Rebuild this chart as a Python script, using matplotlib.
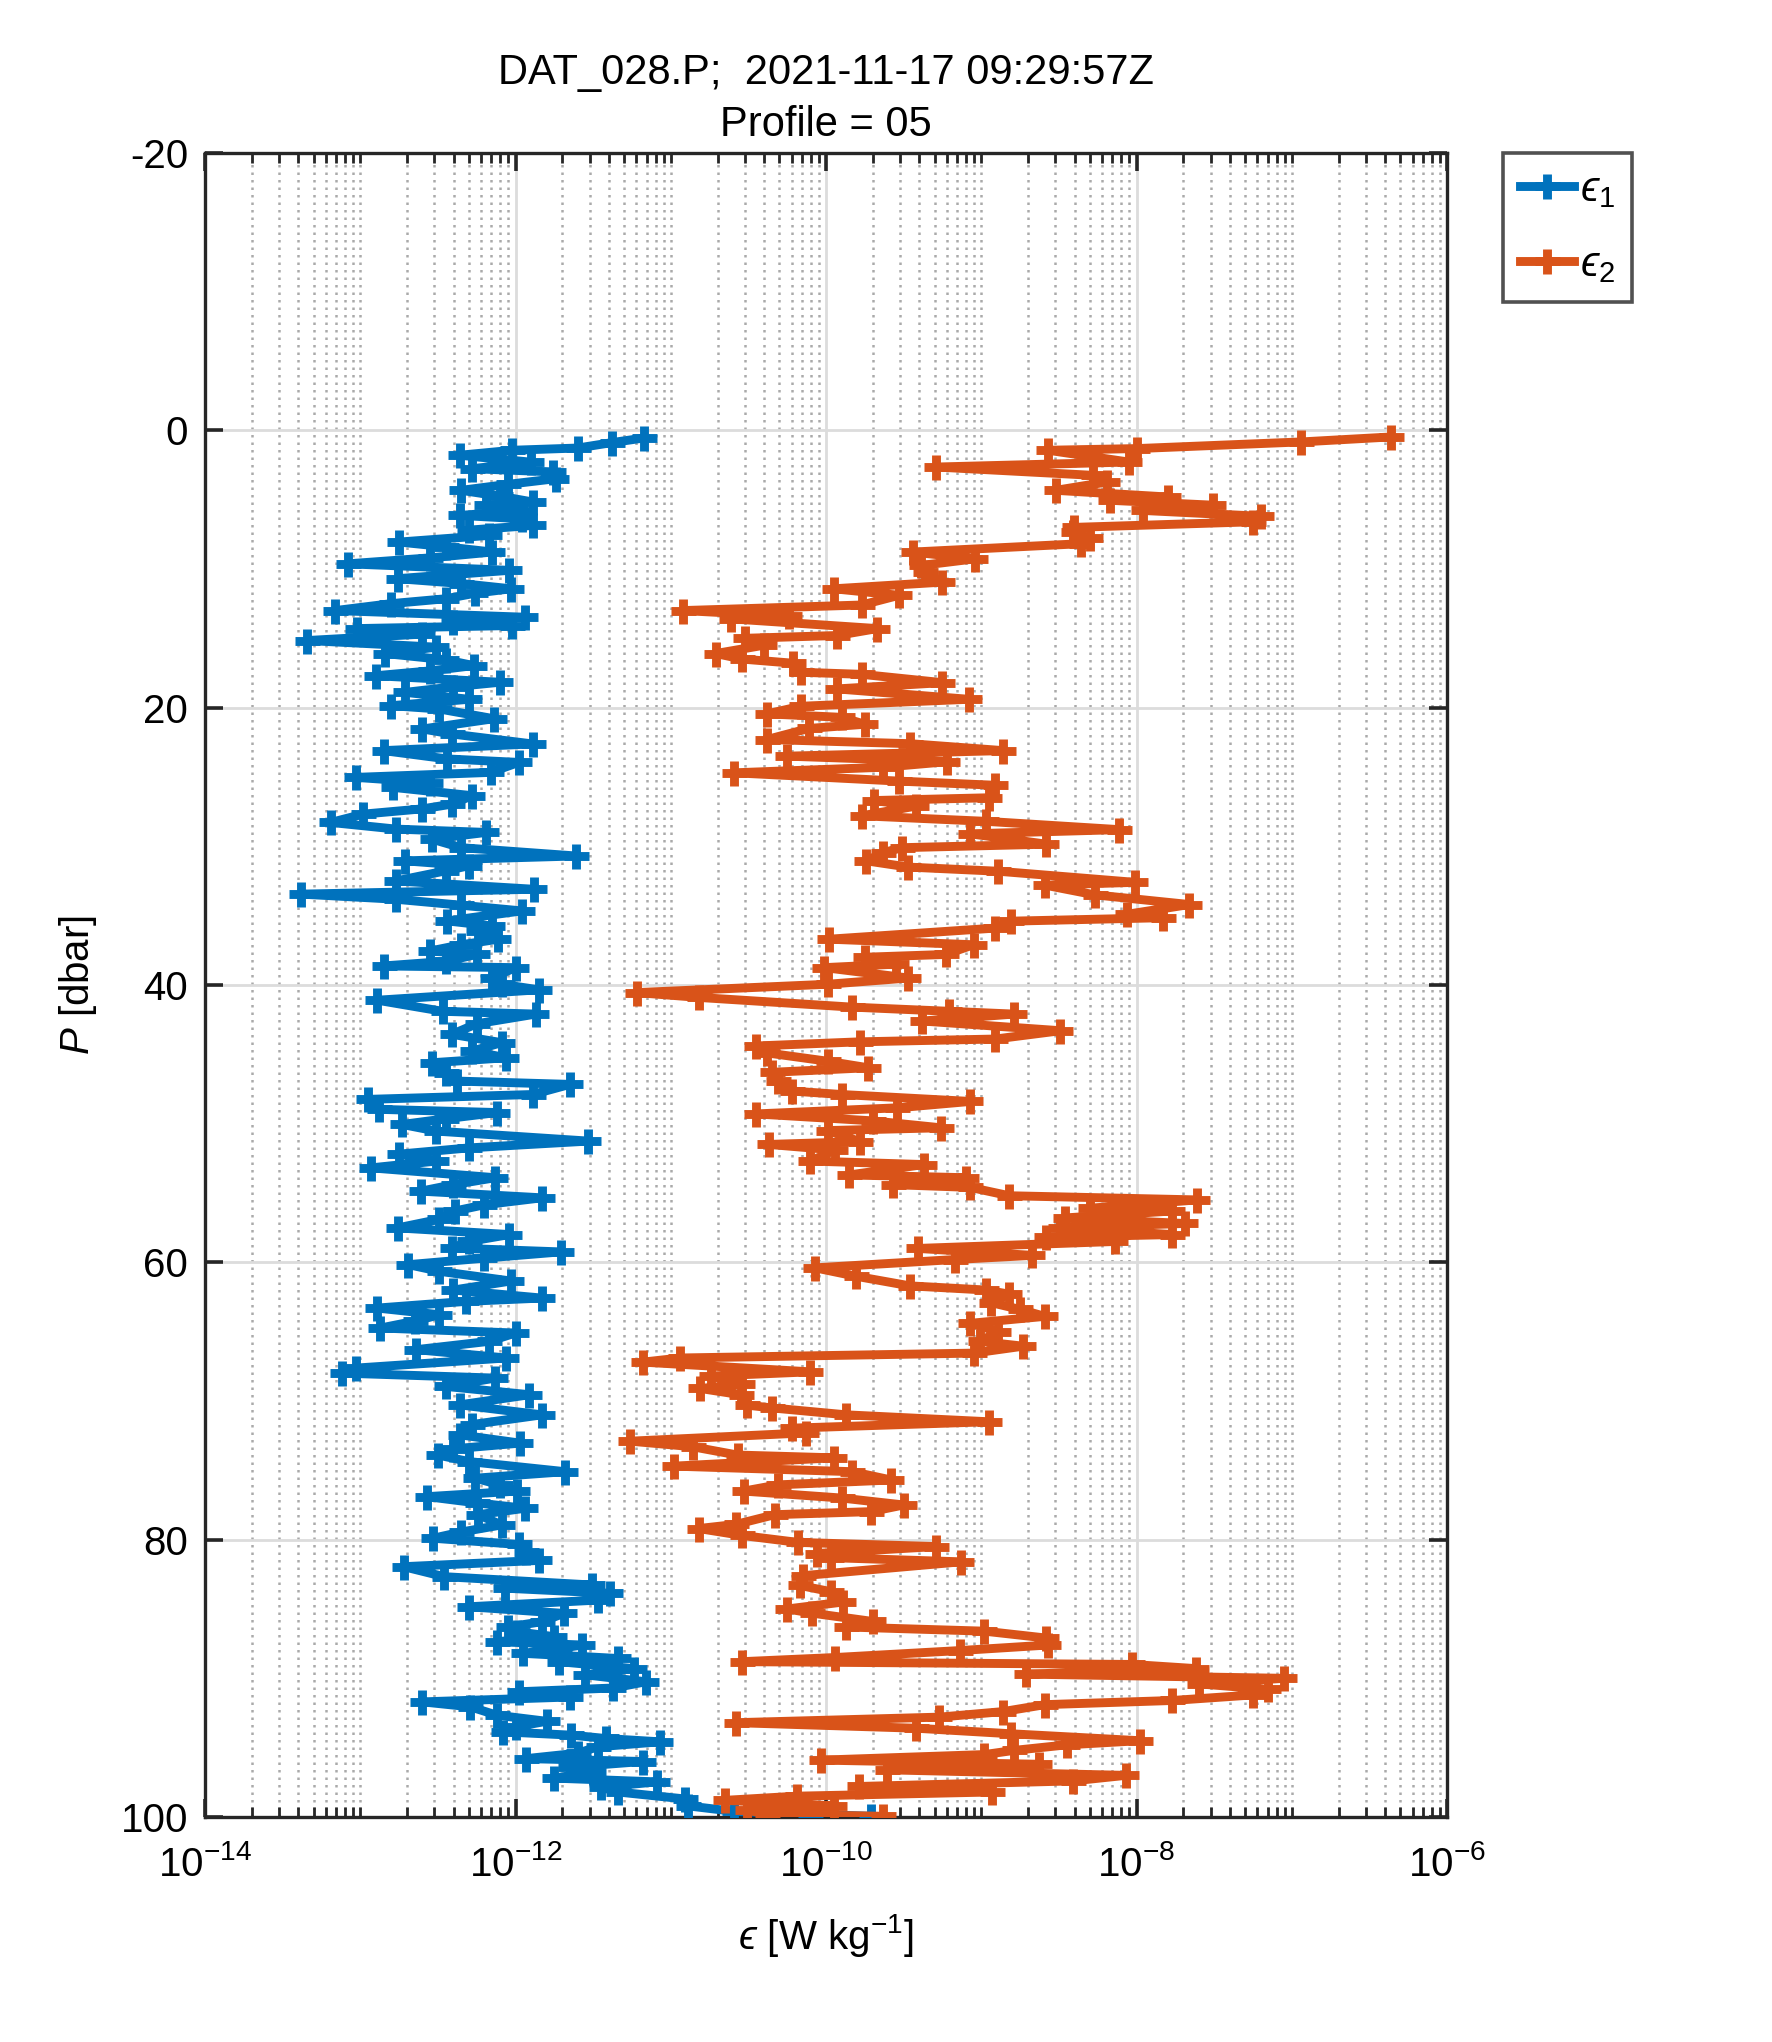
import matplotlib

matplotlib.use("Agg")

import matplotlib.pyplot as plt
import numpy as np
from matplotlib.ticker import FixedLocator, FuncFormatter, NullFormatter

# pressure [dbar] and log10(epsilon), shear probe 1
p1 = [
    0.55, 0.89, 1.28, 1.44, 1.80, 2.30, 2.77, 3.00, 3.49, 3.90, 4.33, 4.75, 5.17, 5.40,
    5.80, 6.14, 6.38, 6.86, 7.20, 7.58, 8.06, 8.40, 8.78, 9.20, 9.63, 10.10, 10.70, 11.05,
    11.43, 11.75, 12.15, 12.50, 13.00, 13.48, 13.80, 14.08, 14.30, 14.70, 15.16, 15.64,
    16.10, 16.55, 16.97, 17.35, 17.70, 18.17, 18.50, 18.90, 19.40, 19.86, 20.10,
    20.80, 21.54, 21.90, 22.62, 23.10, 23.70, 23.95, 24.67, 25.03, 25.40, 25.75, 26.35,
    26.96, 27.30, 27.68, 28.28, 28.76, 29.00, 29.48, 30.10, 30.70, 31.05, 31.40, 31.77,
    32.50, 33.10, 33.45, 33.82, 34.25, 34.66, 35.38, 35.75, 36.10, 36.70, 37.10, 37.55,
    37.80, 38.30, 38.63, 38.75, 39.47, 39.95, 40.35,
    41.10, 41.90, 42.10, 42.80, 43.56, 44.16, 44.77, 45.25, 45.61, 46.33, 46.93, 47.17,
    47.90, 48.25, 48.97, 49.20, 49.65, 50.06, 50.54, 51.26, 51.75, 52.20, 52.70, 53.19,
    53.90, 54.40, 54.87, 55.35, 55.85, 56.30, 56.90, 57.52, 58.00, 58.50, 58.97, 59.25,
    59.70, 60.17, 60.65,
    61.35, 62.00, 62.58, 62.82, 63.30, 63.78, 64.25, 64.74, 65.10, 65.70, 66.30, 66.90,
    67.63, 67.99, 68.35, 68.95, 69.55, 70.28, 71.00, 71.70, 72.44, 73.04, 73.45, 73.90,
    74.37, 75.10, 75.57, 76.05, 76.50, 76.90, 77.35, 77.74, 78.20, 78.94, 79.45, 79.90,
    80.35, 80.90, 81.50, 81.95, 82.67, 83.27, 83.50, 83.87, 84.36, 84.84, 85.32, 85.92,
    86.30, 86.64, 87.00, 87.36, 87.60, 87.85, 88.20, 88.57, 88.80, 89.30, 89.75, 90.25,
    90.70, 90.97, 91.35, 91.70, 92.06, 92.66, 93.10, 93.50, 93.86, 94.10, 94.34, 94.58,
    94.94, 95.40, 95.79, 96.00, 96.40, 96.75, 97.20, 97.47, 97.85, 98.20, 98.70, 99.20,
    99.60, 99.80, 99.95,
]
log_eps1 = [
    -11.17, -11.38, -11.60, -12.02, -12.36, -11.90, -12.28, -11.76, -11.74, -12.05, -12.35,
    -12.10, -11.89, -12.19, -11.95, -12.36, -11.96, -11.89, -12.30, -12.17, -12.75, -12.45,
    -12.15, -12.55, -13.08, -12.04, -12.76, -12.35, -12.03, -12.26, -12.45, -12.80, -13.16,
    -11.94, -12.40, -12.02, -13.02, -12.60, -13.34, -12.51, -12.84, -12.45, -12.27, -12.55,
    -12.90, -12.10, -12.40, -12.71, -12.30, -12.80, -12.49,
    -12.14, -12.60, -12.41, -11.89, -12.85, -12.44, -11.98, -12.16, -13.03, -12.55, -12.79,
    -12.28, -12.41, -12.60, -12.98, -13.19, -12.77, -12.19, -12.54, -12.35, -11.61, -12.71,
    -12.30, -12.45, -12.77, -11.88, -13.38, -12.77, -12.35, -11.96, -12.44, -12.15, -12.24,
    -12.11, -12.35, -12.55, -12.25, -12.45, -12.85, -12.00, -12.15, -12.09, -11.85,
    -12.89, -12.47, -11.87, -12.25, -12.41, -12.09, -12.28, -12.06, -12.54, -12.45, -12.38,
    -11.65, -11.89, -12.95, -12.88, -12.12, -12.45, -12.73, -12.51, -11.53, -12.30, -12.75,
    -12.51, -12.93, -12.13, -12.40, -12.61, -11.83, -12.20, -12.39, -12.49, -12.76, -12.04,
    -12.30, -12.41, -11.71, -12.20, -12.69, -12.49,
    -12.03, -12.40, -11.83, -12.32, -12.89, -12.49, -12.65, -12.87, -12.00, -12.17, -12.64,
    -12.06, -13.03, -13.12, -12.13, -12.45, -11.91, -12.36, -11.83, -12.28, -12.36, -11.97,
    -12.40, -12.50, -12.30, -11.68, -12.26, -12.10, -11.99, -12.57, -12.25, -11.94, -12.24,
    -12.09, -12.35, -12.53,
    -11.98, -11.93, -11.85, -12.72, -12.46, -11.51, -12.07, -11.39, -11.47, -12.30, -11.69,
    -11.83, -12.05, -11.99, -11.75, -12.12, -11.57, -11.72, -11.95, -11.34, -11.72, -11.24,
    -11.55, -11.16, -11.37, -11.98, -11.65, -12.60, -12.29, -12.12, -11.80, -12.00, -12.08,
    -11.64, -11.42, -11.07, -11.47, -11.60, -11.93, -11.18, -11.65, -11.50, -11.75, -11.09,
    -11.45, -11.34, -10.91, -10.89, -10.59, -10.10, -9.71,
]

# shear probe 2
p2 = [
    0.48, 0.84, 1.32, 1.44, 2.29, 2.65, 3.25, 3.73, 4.33, 4.81, 5.05, 5.40, 5.78, 6.20,
    6.60, 7.00, 7.34, 7.80, 8.18, 8.78, 9.27, 9.75, 10.23, 10.95, 11.43, 11.90, 12.60,
    13.00, 13.40, 13.60, 14.30, 14.80, 15.00, 15.50, 16.10, 16.50, 16.80, 17.45, 17.60,
    18.20, 18.65, 19.40, 19.90,
    20.45, 20.70, 21.20, 21.50, 22.30, 22.60, 23.10, 23.50, 23.90, 24.30, 24.70, 25.30,
    25.60, 26.50, 26.70, 27.10, 27.80, 28.20, 28.80, 29.10, 29.85, 30.10, 30.45, 31.05,
    31.50, 31.80, 32.60, 32.80, 33.50, 34.20, 34.90, 35.15, 35.40, 35.90, 36.70, 37.10,
    37.80, 38.00, 38.50, 38.75, 39.50, 39.95,
    40.55, 40.90, 41.60, 41.90, 42.10, 42.60, 43.30, 43.90, 44.10, 44.40, 44.90, 45.50,
    45.97, 46.30, 46.90, 47.65, 47.90, 48.40, 48.86, 49.30, 49.80, 50.30, 50.50, 51.30,
    51.50, 51.90, 52.70, 52.95, 53.70, 53.90, 54.40, 54.60, 55.20, 55.50, 56.10, 56.30,
    56.80, 57.20, 57.50, 58.00, 58.20, 58.50, 59.00, 59.50, 59.80,
    60.40, 61.00, 61.70, 62.00, 62.30, 62.90, 63.40, 63.90, 64.40, 65.00, 65.70, 66.05,
    66.55, 66.90, 67.20, 67.90, 68.20, 68.80, 69.10, 69.55, 70.30, 70.50, 71.00, 71.50,
    71.96, 72.30, 72.90, 73.30, 73.90, 74.10, 74.70, 75.10, 75.70, 76.05, 76.50, 77.00,
    77.50, 77.98, 78.20, 78.90, 79.20, 79.70,
    80.20, 80.50, 81.00, 81.30, 81.60, 82.60, 83.30, 83.75, 84.50, 85.00, 85.30, 85.90,
    86.30, 86.60, 87.10, 87.60, 88.00, 88.50, 88.80, 89.00, 89.30, 89.70, 90.00, 90.40,
    90.80, 91.20, 91.60, 91.90, 92.40, 92.80, 93.20, 93.60, 94.00, 94.50, 94.80, 95.20,
    95.50, 95.90, 96.20, 96.60, 97.00, 97.40, 97.80, 98.20, 98.50, 98.80, 99.20, 99.50,
    99.80, 99.95,
]
log_eps2 = [
    -6.36, -6.94, -8.00, -8.57, -8.05, -9.29, -8.28, -8.19, -8.52, -7.80, -8.17, -7.51,
    -7.96, -7.20, -7.25, -8.40, -8.41, -8.30, -8.36, -9.44, -9.04, -9.39, -9.36, -9.25,
    -9.95, -9.53, -9.77, -10.92, -10.24, -10.61, -9.67, -9.93, -10.52, -10.40, -10.71,
    -10.54, -10.21, -10.16, -9.77, -9.25, -9.93, -9.08, -10.16,
    -10.38, -9.90, -9.75, -10.11, -10.38, -9.46, -8.86, -10.25, -9.22, -9.63, -10.59,
    -9.53, -8.91, -8.95, -9.69, -9.42, -9.77, -8.97, -8.11, -9.07, -8.58, -9.51, -9.63,
    -9.74, -9.47, -8.89, -8.01, -8.59, -8.27, -7.66, -8.06, -7.83, -8.81, -8.91, -9.98,
    -9.05, -9.23, -9.75, -9.55, -10.01, -9.47, -9.99,
    -11.22, -10.82, -9.83, -9.21, -8.79, -9.38, -8.49, -8.91, -9.78, -10.45, -10.38,
    -9.99, -9.73, -10.35, -10.31, -10.22, -9.90, -9.07, -9.54, -10.45, -9.70, -9.26,
    -9.99, -9.78, -10.37, -9.94, -10.10, -9.37, -9.85, -9.10, -9.57, -9.07, -8.82, -7.61,
    -8.30, -7.77, -8.46, -7.69, -8.49, -7.77, -8.58, -8.14, -9.41, -8.67, -9.17,
    -10.07, -9.81, -9.46, -8.97, -8.82, -8.94, -8.75, -8.59, -9.07, -8.89, -9.01, -8.73,
    -9.05, -10.94, -11.18, -10.10, -10.74, -10.54, -10.81, -10.55, -10.51, -10.35, -9.87,
    -8.95, -10.22, -10.13, -11.26, -10.86, -10.57, -9.95, -10.98, -9.83, -9.58, -10.31,
    -10.53, -9.90, -9.50, -9.71, -10.33, -10.58, -10.82, -10.54,
    -10.18, -9.29, -10.06, -9.97, -9.13, -10.15, -10.17, -9.97, -9.89, -10.25, -10.09,
    -9.70, -9.87, -8.98, -8.58, -8.57, -9.14, -9.94, -10.54, -8.03, -7.62, -8.71, -7.05,
    -7.60, -7.15, -7.25, -7.77, -8.59, -8.86, -9.27, -10.58, -9.42, -8.81, -7.98, -8.45,
    -8.79, -8.98, -10.03, -8.63, -9.61, -8.07, -8.41, -9.79, -8.93, -10.19, -10.65, -9.95,
    -10.51, -10.38, -9.63,
]

x_major = [1e-14, 1e-12, 1e-10, 1e-8, 1e-6]
y_ticks = [-20, 0, 20, 40, 60, 80, 100]

BLUE = "#0072BD"
ORANGE = "#D95319"

plt.rcParams["font.family"] = ["Liberation Sans", "DejaVu Sans"]
plt.rcParams["mathtext.fontset"] = "custom"
plt.rcParams["mathtext.rm"] = "Liberation Sans"
plt.rcParams["mathtext.it"] = "Liberation Sans:italic"
plt.rcParams["mathtext.fallback"] = "stix"
plt.rcParams["axes.unicode_minus"] = False

fig = plt.figure(figsize=(8.86, 10.21), dpi=200)
ax = fig.add_axes([0.1157, 0.1102, 0.7009, 0.8149])

line_kw = dict(linewidth=3.2, marker="+", markersize=9, markeredgewidth=3.2, zorder=3)
ax.plot(10.0 ** np.array(log_eps1), p1, color=BLUE, label="$\u03f5_{\\mathrm{1}}$", **line_kw)
ax.plot(10.0 ** np.array(log_eps2), p2, color=ORANGE, label="$\u03f5_{\\mathrm{2}}$", **line_kw)

ax.set_xscale("log")
ax.set_xlim(1e-14, 1e-6)
ax.set_ylim(100, -20)

minor = [k * 10.0 ** e for e in range(-14, -6) for k in range(1, 10) if not (k == 1 and e % 2 == 0)]
ax.xaxis.set_major_locator(FixedLocator(x_major))
ax.xaxis.set_minor_locator(FixedLocator(minor))
ax.xaxis.set_major_formatter(FuncFormatter(lambda v, _: r"10$^{\mathrm{-%d}}$" % round(-np.log10(v))))
ax.xaxis.set_minor_formatter(NullFormatter())
ax.set_yticks(y_ticks)

ax.grid(which="major", color="#dcdcdc", linestyle="-", linewidth=1.0, zorder=0)
ax.grid(which="minor", axis="x", color="#aaaaaa", linestyle=(0, (1, 2)), linewidth=0.9, zorder=0)
ax.set_axisbelow(True)

ax.tick_params(which="both", direction="in", top=True, right=True, colors="#262626",
               labelcolor="black", labelsize=14.5)
ax.tick_params(axis="x", which="both", pad=10)
ax.tick_params(axis="y", which="both", pad=6)
ax.tick_params(which="major", length=6.5, width=1.3)
ax.tick_params(which="minor", length=3.5, width=1.0)
for spine in ax.spines.values():
    spine.set_linewidth(1.2)
    spine.set_color("#262626")

ax.set_xlabel("$\u03f5$ [W kg$^{\\mathrm{-1}}$]", fontsize=14.5, labelpad=10)
ax.set_ylabel(r"$P$ [dbar]", fontsize=14.5, labelpad=8)
ax.set_title("DAT_028.P;  2021-11-17 09:29:57Z\nProfile = 05", fontsize=15, pad=6, linespacing=1.4)

leg = ax.legend(loc="upper left", bbox_to_anchor=(1.045, 1.0), borderaxespad=0, fontsize=15,
                frameon=True, fancybox=False, edgecolor="#262626", handlelength=1.3,
                handletextpad=0.15, borderpad=0.4, labelspacing=0.85)
leg.get_frame().set_linewidth(1.3)

fig.savefig("out.png", dpi=200)
